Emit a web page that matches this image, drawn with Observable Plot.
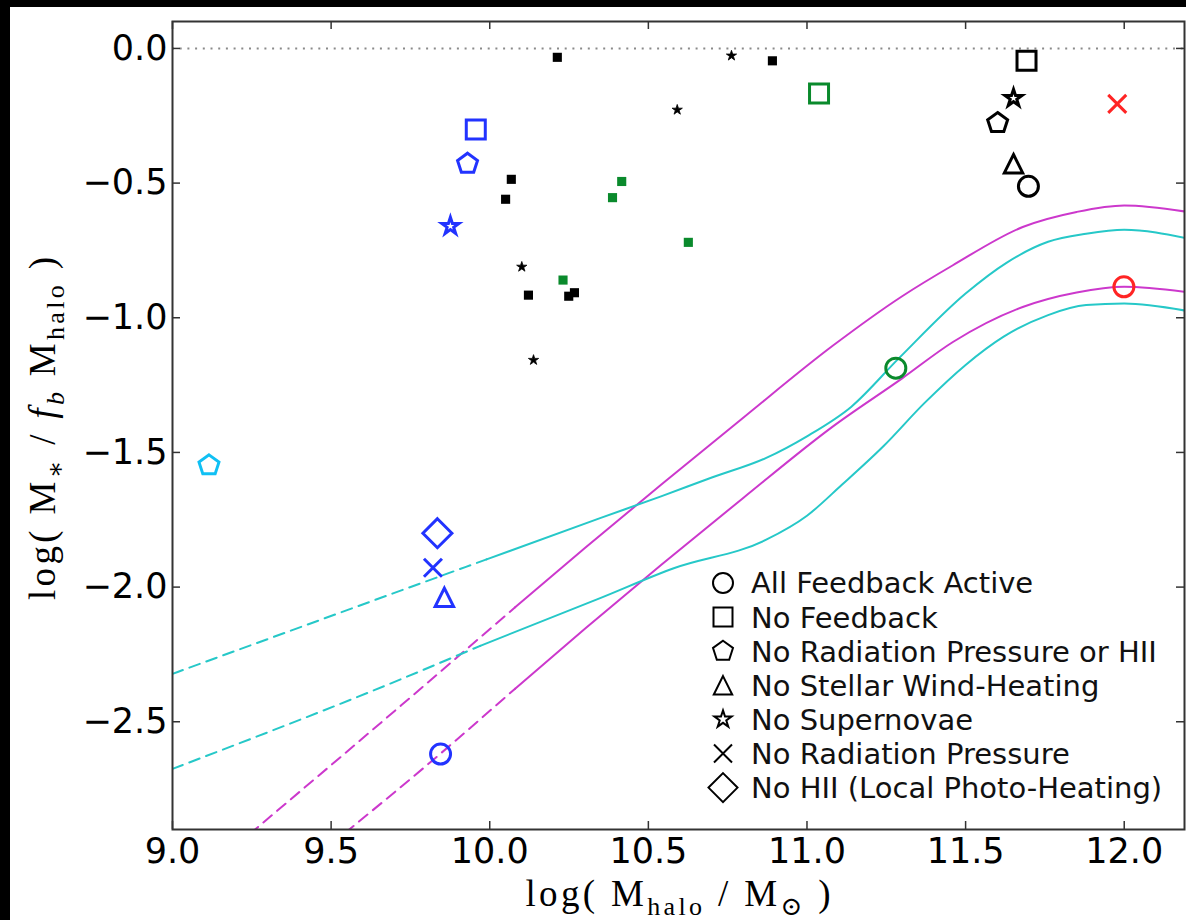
<!DOCTYPE html>
<html><head><meta charset="utf-8">
<script src="https://cdn.jsdelivr.net/npm/d3@7"></script>
<script src="https://cdn.jsdelivr.net/npm/@observablehq/plot@0.6"></script>
<style>
html,body{margin:0;padding:0;background:#000;width:1186px;height:920px;overflow:hidden}
#wrap{position:absolute;left:10px;top:7px;width:1176px;height:913px;background:#fff}
</style></head><body><div id="wrap"></div>
<script>
// ---------- data ----------
const xTicks = [9.0, 9.5, 10.0, 10.5, 11.0, 11.5, 12.0];
const yTicks = [0.0, -0.5, -1.0, -1.5, -2.0, -2.5];

const variants = ["All Feedback Active", "No Feedback", "No Radiation Pressure or HII",
  "No Stellar Wind-Heating", "No Supernovae", "No Radiation Pressure", "No HII (Local Photo-Heating)"];
const halos = ["h09", "h10", "h11", "h12", "h12b"];

// simulation runs (open markers)
const simHalo = ["h09", "h10", "h10", "h10", "h10", "h10", "h10", "h10", "h11", "h11",
  "h12", "h12", "h12", "h12", "h12", "h12b", "h12b"];
const simVariant = ["No Radiation Pressure or HII",
  "All Feedback Active", "No Feedback", "No Radiation Pressure or HII", "No Stellar Wind-Heating",
  "No Supernovae", "No Radiation Pressure", "No HII (Local Photo-Heating)",
  "All Feedback Active", "No Feedback",
  "All Feedback Active", "No Feedback", "No Radiation Pressure or HII", "No Stellar Wind-Heating", "No Supernovae",
  "All Feedback Active", "No Radiation Pressure"];
const simX = [9.115, 9.845, 9.956, 9.930, 9.857, 9.876, 9.821, 9.835, 11.280, 11.038,
  11.698, 11.692, 11.601, 11.651, 11.651, 11.999, 11.978];
const simY = [-1.548, -2.620, -0.301, -0.428, -2.038, -0.660, -1.928, -1.800, -1.187, -0.167,
  -0.512, -0.046, -0.277, -0.428, -0.185, -0.885, -0.206];

// small filled squares and stars (other simulations)
const blackSqX = [10.213, 10.068, 10.050, 10.122, 10.249, 10.267, 10.891];
const blackSqY = [-0.033, -0.486, -0.560, -0.916, -0.920, -0.907, -0.046];
const greenSqX = [10.231, 10.416, 10.387, 10.626];
const greenSqY = [-0.860, -0.494, -0.554, -0.720];
const starX = [10.101, 10.138, 10.762, 10.591];
const starY = [-0.811, -1.157, -0.027, -0.228];

// abundance-matching curves
const magHiDashX = [9.2, 9.72, 10.08];
const magHiDashY = [-2.96, -2.44, -2.075];
const magHiX = [10.08, 10.3, 10.54, 10.8, 11.08, 11.3, 11.46, 11.68, 11.85, 12.0, 12.2];
const magHiY = [-2.075, -1.855, -1.62, -1.37, -1.105, -0.92, -0.805, -0.663, -0.607, -0.583, -0.607];
const magLoDashX = [9.5, 9.845, 10.08];
const magLoDashY = [-2.955, -2.618, -2.377];
const magLoX = [10.08, 10.3, 10.54, 10.8, 11.08, 11.3, 11.46, 11.68, 11.85, 12.0, 12.2];
const magLoY = [-2.377, -2.155, -1.918, -1.668, -1.405, -1.225, -1.09, -0.96, -0.906, -0.885, -0.905];
const cyanHiDashX = [9.0, 9.47, 9.99];
const cyanHiDashY = [-2.322, -2.12, -1.897];
const cyanHiX = [9.99, 10.35, 10.54, 10.7, 10.87, 11.0, 11.14, 11.29, 11.5, 11.63, 11.76, 11.88, 12.0, 12.2];
const cyanHiY = [-1.897, -1.743, -1.663, -1.593, -1.521, -1.44, -1.33, -1.15, -0.91, -0.795, -0.718, -0.688, -0.673, -0.706];
const cyanLoDashX = [9.0, 9.72, 9.97];
const cyanLoDashY = [-2.675, -2.342, -2.218];
const cyanLoX = [9.97, 10.35, 10.58, 10.87, 11.0, 11.11, 11.24, 11.37, 11.5, 11.62, 11.76, 11.88, 12.0, 12.2];
const cyanLoY = [-2.218, -2.04, -1.93, -1.825, -1.735, -1.62, -1.478, -1.317, -1.175, -1.07, -0.99, -0.953, -0.947, -0.975];

// ---------- styles ----------
const haloColors = ["#10c0f4", "#2233ff", "#0a8a2c", "#000000", "#ff2424"];
const MAG = "#cc38cc", CYAN = "#26c8c8", GREEN = "#0a8a2c";
const W = 1176, H = 913, ML = 162, MR = 2, MT = 14, MB = 91, TICK = 8;
const FW = W - ML - MR, FH = H - MT - MB;

const rad = s => Math.sqrt(s / Math.PI);
const symCircle = {draw(c, s) { const r = rad(s); c.moveTo(r, 0); c.arc(0, 0, r, 0, 2 * Math.PI); c.closePath(); }};
const symSquare = {draw(c, s) { const h = 0.95 * rad(s); c.moveTo(-h, -h); c.lineTo(h, -h); c.lineTo(h, h); c.lineTo(-h, h); c.closePath(); }};
const symPentagon = {draw(c, s) { const R = 1.05 * rad(s);
  for (let k = 0; k < 5; k++) { const a = -Math.PI / 2 + k * 2 * Math.PI / 5; const px = R * Math.cos(a), py = R * Math.sin(a); if (k) c.lineTo(px, py); else c.moveTo(px, py); }
  c.closePath(); }};
const symTriangle = {draw(c, s) { const h = 0.92 * rad(s); c.moveTo(0, -h); c.lineTo(h, h); c.lineTo(-h, h); c.closePath(); }};
const symStar = {draw(c, s) { const R = 0.9 * rad(s), ri = R * 0.381966;
  for (let k = 0; k < 10; k++) { const a = -Math.PI / 2 + k * Math.PI / 5; const rr = k % 2 ? ri : R; const px = rr * Math.cos(a), py = rr * Math.sin(a); if (k) c.lineTo(px, py); else c.moveTo(px, py); }
  c.closePath(); }};
const symTimes = {draw(c, s) { const h = 0.9 * rad(s); c.moveTo(-h, -h); c.lineTo(h, h); c.moveTo(h, -h); c.lineTo(-h, h); }};
const symDiamond = {draw(c, s) { const h = 1.45 * rad(s); c.moveTo(0, -h); c.lineTo(h, 0); c.lineTo(0, h); c.lineTo(-h, 0); c.closePath(); }};
const variantSymbols = [symCircle, symSquare, symPentagon, symTriangle, symStar, symTimes, symDiamond];

// ---------- tables ----------
const tbl = (X, Y) => X.map((x, i) => ({x, y: Y[i]}));
const sim = simX.map((x, i) => ({x, y: simY[i], halo: simHalo[i], variant: simVariant[i]}));
const fmt = d3.format(".1f");

const lineOpts = (stroke, dash) => ({x: "x", y: "y", stroke, strokeWidth: 2, strokeDasharray: dash, curve: "monotone-x", clip: true});
const tickStyle = {stroke: "#333", strokeWidth: 1.5};

const plot = Plot.plot({
  width: W, height: H,
  marginLeft: ML, marginRight: MR, marginTop: MT, marginBottom: MB,
  style: {fontFamily: "DejaVu Sans", background: "white", color: "#000", overflow: "visible"},
  x: {domain: [9, 12.19], axis: null},
  y: {domain: [-2.9, 0.1], axis: null},
  symbol: {domain: variants, range: variantSymbols},
  color: {domain: halos, range: haloColors},
  marks: [
    Plot.ruleY([0], {stroke: "#8a8a8a", strokeWidth: 2, strokeDasharray: "2,5.7"}),
    Plot.line(tbl(magHiDashX, magHiDashY), lineOpts(MAG, "11,7")),
    Plot.line(tbl(magHiX, magHiY), lineOpts(MAG, null)),
    Plot.line(tbl(magLoDashX, magLoDashY), lineOpts(MAG, "11,7")),
    Plot.line(tbl(magLoX, magLoY), lineOpts(MAG, null)),
    Plot.line(tbl(cyanHiDashX, cyanHiDashY), lineOpts(CYAN, "11,7")),
    Plot.line(tbl(cyanHiX, cyanHiY), lineOpts(CYAN, null)),
    Plot.line(tbl(cyanLoDashX, cyanLoDashY), lineOpts(CYAN, "11,7")),
    Plot.line(tbl(cyanLoX, cyanLoY), lineOpts(CYAN, null)),
    Plot.dot(tbl(blackSqX, blackSqY), {x: "x", y: "y", symbol: symSquare, r: 4.8, fill: "#000", stroke: "none"}),
    Plot.dot(tbl(greenSqX, greenSqY), {x: "x", y: "y", symbol: symSquare, r: 4.8, fill: GREEN, stroke: "none"}),
    Plot.dot(tbl(starX, starY), {x: "x", y: "y", symbol: symStar, r: 6, fill: "#000", stroke: "#000", strokeWidth: 0.8}),
    Plot.dot(sim, {x: "x", y: "y", symbol: "variant", stroke: "halo", fill: "none", r: 10, strokeWidth: 3}),
    Plot.frame({stroke: "#333", strokeWidth: 2}),
    // inward ticks on all four sides
    Plot.tickX(xTicks, {x: d => d, insetTop: FH - TICK, ...tickStyle}),
    Plot.tickX(xTicks, {x: d => d, insetBottom: FH - TICK, ...tickStyle}),
    Plot.tickY(yTicks, {y: d => d, insetRight: FW - TICK, ...tickStyle}),
    Plot.tickY(yTicks, {y: d => d, insetLeft: FW - TICK, ...tickStyle}),
    // tick labels
    Plot.axisX({anchor: "bottom", ticks: xTicks, tickSize: 0, tickPadding: 9, tickFormat: fmt, fontSize: 35, label: null}),
    Plot.axisY({anchor: "left", ticks: yTicks, tickSize: 0, tickPadding: 5, tickFormat: fmt, fontSize: 35, label: null})
  ]
});
document.getElementById("wrap").appendChild(plot);

// ---------- legend ----------
const svg = d3.select(plot);
const leg = svg.append("g").attr("font-family", "DejaVu Sans").attr("font-size", 29)
  .attr("fill", "#111").attr("text-anchor", "start");
variants.forEach((name, i) => {
  const cy = 576 + 34.1 * i;
  const p = d3.path();
  variantSymbols[i].draw(p, Math.PI * 10 * 10);
  leg.append("path").attr("d", p.toString()).attr("transform", `translate(713,${cy})`)
    .attr("fill", "none").attr("stroke", "#000").attr("stroke-width", 2);
  leg.append("text").attr("x", 741).attr("y", cy).attr("dy", "0.36em").text(name);
});

// ---------- axis labels (math style) ----------
function mathLabel(g, parts) {
  const t = g.append("text").attr("font-family", "Liberation Serif, DejaVu Serif, serif").attr("font-size", 37).attr("fill", "#000");
  let shifted = 0;
  parts.forEach(pt => {
    const ts = t.append("tspan").text(pt.t);
    const want = pt.sub ? 9 : 0;
    if (want !== shifted) { ts.attr("dy", want - shifted); shifted = want; }
    if (pt.sub) ts.attr("font-size", 26);
    if (pt.it) ts.attr("font-style", "italic");
  });
  return t;
}
const xl = mathLabel(svg.append("g"), [
  {t: "log( M"}, {t: "halo", sub: true}, {t: " / M"}, {t: "\u2299", sub: true}, {t: " )"}]);
xl.attr("x", 668).attr("y", 899).attr("text-anchor", "middle").attr("textLength", 305).attr("lengthAdjust", "spacing");

const yl = mathLabel(svg.append("g").attr("transform", "translate(45,421.5) rotate(-90)"), [
  {t: "log( M"}, {t: "\u2217", sub: true}, {t: " / "}, {t: "f", it: true}, {t: "b", sub: true, it: true},
  {t: " M"}, {t: "halo", sub: true}, {t: " )"}]);
yl.attr("x", 0).attr("y", 0).attr("text-anchor", "middle").attr("textLength", 343).attr("lengthAdjust", "spacing");
</script>
</body></html>
